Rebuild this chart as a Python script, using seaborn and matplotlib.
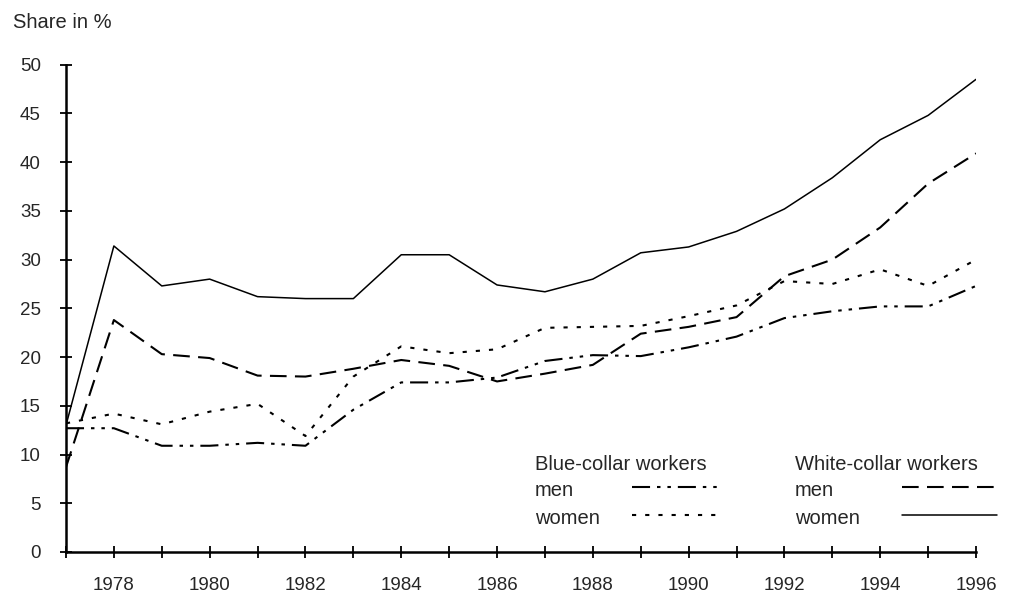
import matplotlib
matplotlib.use("Agg")
import matplotlib.pyplot as plt
from matplotlib.lines import Line2D
from matplotlib.ticker import MultipleLocator
import seaborn as sns
import pandas as pd

years = list(range(1977, 1997))
blue_men = [12.7, 12.7, 10.9, 10.9, 11.2, 10.9, 14.6, 17.4, 17.4, 17.9,
            19.6, 20.2, 20.1, 21.0, 22.1, 24.0, 24.7, 25.2, 25.2, 27.3]
blue_women = [13.2, 14.2, 13.1, 14.4, 15.2, 11.9, 18.0, 21.1, 20.4, 20.8,
              23.0, 23.1, 23.2, 24.2, 25.3, 27.8, 27.5, 29.0, 27.3, 30.0]
white_men = [8.7, 23.8, 20.3, 19.9, 18.1, 18.0, 18.8, 19.7, 19.1, 17.5,
             18.3, 19.2, 22.4, 23.1, 24.1, 28.3, 30.0, 33.3, 37.8, 40.9]
white_women = [13.0, 31.4, 27.3, 28.0, 26.2, 26.0, 26.0, 30.5, 30.5, 27.4,
               26.7, 28.0, 30.7, 31.3, 32.9, 35.2, 38.4, 42.3, 44.8, 48.5]

sns.set_style("white")
plt.rcParams['font.family'] = ['Liberation Sans', 'DejaVu Sans']
plt.rcParams['lines.scale_dashes'] = False

# dash patterns in points
styles = {
    'bm': dict(dashes=(13, 5, 2.5, 5, 2.5, 5), lw=1.5),
    'bw': dict(dashes=(3, 6.5), lw=1.5),
    'wm': dict(dashes=(12, 6), lw=1.5),
    'ww': dict(dashes=None, lw=1.1),
}

df = pd.DataFrame({'year': years, 'bm': blue_men, 'bw': blue_women,
                   'wm': white_men, 'ww': white_women})

fig = plt.figure(figsize=(10.15, 5.97), dpi=100)
ax = fig.add_axes([0.065, 0.0754, 0.8966, 0.8162])

for key, st in styles.items():
    kw = dict(color='black', linewidth=st['lw'])
    if st['dashes'] is not None:
        kw['dashes'] = st['dashes']
    sns.lineplot(data=df, x='year', y=key, ax=ax, **kw)

ax.set_xlim(1977, 1996)
ax.set_ylim(0, 50)
ax.set_xlabel('')
ax.set_ylabel('')
ax.set_xticks(range(1978, 1997, 2))
ax.xaxis.set_minor_locator(MultipleLocator(2, offset=1))
ax.set_yticks(range(0, 51, 5))
ax.tick_params(axis='both', which='both', direction='inout', length=8,
               width=1.3, color='black', labelsize=13.5, pad=14,
               bottom=True, left=True)
sns.despine(ax=ax)
for s in ('left', 'bottom'):
    ax.spines[s].set_linewidth(1.8)
    ax.spines[s].set_color('black')

fig.text(13 / 1015, 1 - 22 / 597, 'Share in %', fontsize=14.5, va='center', ha='left')

# legend drawn by hand (labels left, samples right)
def fx(px):
    return px / 1015


def fy(py):
    return 1 - py / 597


groups = [
    (535, 632, 718, 'Blue-collar workers', [('men', 'bm'), ('women', 'bw')]),
    (795, 902, 997, 'White-collar workers', [('men', 'wm'), ('women', 'ww')]),
]
for tx, l0, l1, title, rows in groups:
    fig.text(fx(tx), fy(465), title, fontsize=14.5, va='center', ha='left')
    for (lab, key), py in zip(rows, (489, 517)):
        fig.text(fx(tx), fy(py + 1), lab, fontsize=14.5, va='center', ha='left')
        st = styles[key]
        ln = Line2D([fx(l0), fx(l1)], [fy(py - 2), fy(py - 2)],
                    transform=fig.transFigure, color='black', linewidth=st['lw'])
        if st['dashes'] is not None:
            ln.set_dashes(st['dashes'])
        fig.add_artist(ln)

fig.savefig('out.png', dpi=100)
